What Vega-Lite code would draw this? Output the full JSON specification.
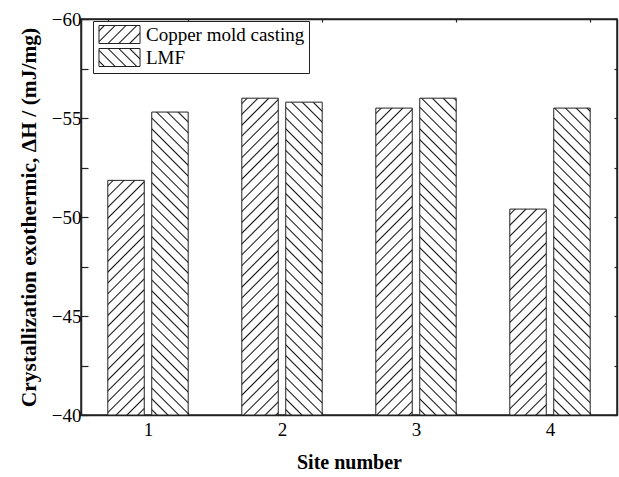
{
  "$schema": "https://vega.github.io/schema/vega-lite/v6.json",
  "width": 536,
  "height": 396,
  "padding": {"left": 18, "top": 10, "right": 2, "bottom": 5},
  "background": "white",
  "config": {
    "view": {"stroke": "#222", "strokeWidth": 1.5},
    "font": "Liberation Serif",
    "axis": {
      "domainColor": "#222", "domainWidth": 1.5, "tickColor": "#222", "tickWidth": 1.2,
      "labelFont": "Liberation Serif", "labelFontSize": 19, "labelColor": "black",
      "titleFont": "Liberation Serif", "titleFontWeight": "bold", "titleColor": "black", "grid": false
    }
  },
  "params": [
    {"name": "stripes", "value": [
      {"offset": 0.011, "color": "#fff"}, {"offset": 0.015, "color": "#111"}, {"offset": 0.019, "color": "#fff"},
      {"offset": 0.041, "color": "#fff"}, {"offset": 0.045, "color": "#111"}, {"offset": 0.049, "color": "#fff"},
      {"offset": 0.071, "color": "#fff"}, {"offset": 0.075, "color": "#111"}, {"offset": 0.079, "color": "#fff"},
      {"offset": 0.101, "color": "#fff"}, {"offset": 0.105, "color": "#111"}, {"offset": 0.109, "color": "#fff"},
      {"offset": 0.131, "color": "#fff"}, {"offset": 0.135, "color": "#111"}, {"offset": 0.139, "color": "#fff"},
      {"offset": 0.161, "color": "#fff"}, {"offset": 0.165, "color": "#111"}, {"offset": 0.169, "color": "#fff"},
      {"offset": 0.191, "color": "#fff"}, {"offset": 0.195, "color": "#111"}, {"offset": 0.199, "color": "#fff"},
      {"offset": 0.221, "color": "#fff"}, {"offset": 0.225, "color": "#111"}, {"offset": 0.229, "color": "#fff"},
      {"offset": 0.251, "color": "#fff"}, {"offset": 0.255, "color": "#111"}, {"offset": 0.259, "color": "#fff"},
      {"offset": 0.281, "color": "#fff"}, {"offset": 0.285, "color": "#111"}, {"offset": 0.289, "color": "#fff"},
      {"offset": 0.311, "color": "#fff"}, {"offset": 0.315, "color": "#111"}, {"offset": 0.319, "color": "#fff"},
      {"offset": 0.341, "color": "#fff"}, {"offset": 0.345, "color": "#111"}, {"offset": 0.349, "color": "#fff"},
      {"offset": 0.371, "color": "#fff"}, {"offset": 0.375, "color": "#111"}, {"offset": 0.379, "color": "#fff"},
      {"offset": 0.401, "color": "#fff"}, {"offset": 0.405, "color": "#111"}, {"offset": 0.409, "color": "#fff"},
      {"offset": 0.431, "color": "#fff"}, {"offset": 0.435, "color": "#111"}, {"offset": 0.439, "color": "#fff"},
      {"offset": 0.461, "color": "#fff"}, {"offset": 0.465, "color": "#111"}, {"offset": 0.469, "color": "#fff"},
      {"offset": 0.491, "color": "#fff"}, {"offset": 0.495, "color": "#111"}, {"offset": 0.499, "color": "#fff"},
      {"offset": 0.521, "color": "#fff"}, {"offset": 0.525, "color": "#111"}, {"offset": 0.529, "color": "#fff"},
      {"offset": 0.551, "color": "#fff"}, {"offset": 0.555, "color": "#111"}, {"offset": 0.559, "color": "#fff"},
      {"offset": 0.581, "color": "#fff"}, {"offset": 0.585, "color": "#111"}, {"offset": 0.589, "color": "#fff"},
      {"offset": 0.611, "color": "#fff"}, {"offset": 0.615, "color": "#111"}, {"offset": 0.619, "color": "#fff"},
      {"offset": 0.641, "color": "#fff"}, {"offset": 0.645, "color": "#111"}, {"offset": 0.649, "color": "#fff"},
      {"offset": 0.671, "color": "#fff"}, {"offset": 0.675, "color": "#111"}, {"offset": 0.679, "color": "#fff"},
      {"offset": 0.701, "color": "#fff"}, {"offset": 0.705, "color": "#111"}, {"offset": 0.709, "color": "#fff"},
      {"offset": 0.731, "color": "#fff"}, {"offset": 0.735, "color": "#111"}, {"offset": 0.739, "color": "#fff"},
      {"offset": 0.761, "color": "#fff"}, {"offset": 0.765, "color": "#111"}, {"offset": 0.769, "color": "#fff"},
      {"offset": 0.791, "color": "#fff"}, {"offset": 0.795, "color": "#111"}, {"offset": 0.799, "color": "#fff"},
      {"offset": 0.821, "color": "#fff"}, {"offset": 0.825, "color": "#111"}, {"offset": 0.829, "color": "#fff"},
      {"offset": 0.851, "color": "#fff"}, {"offset": 0.855, "color": "#111"}, {"offset": 0.859, "color": "#fff"},
      {"offset": 0.881, "color": "#fff"}, {"offset": 0.885, "color": "#111"}, {"offset": 0.889, "color": "#fff"},
      {"offset": 0.911, "color": "#fff"}, {"offset": 0.915, "color": "#111"}, {"offset": 0.919, "color": "#fff"},
      {"offset": 0.941, "color": "#fff"}, {"offset": 0.945, "color": "#111"}, {"offset": 0.949, "color": "#fff"},
      {"offset": 0.971, "color": "#fff"}, {"offset": 0.975, "color": "#111"}, {"offset": 0.979, "color": "#fff"}
    ]}
  ],
  "data": {"values": [
    {"site": "1", "series": "Copper mold casting", "value": -51.85},
    {"site": "2", "series": "Copper mold casting", "value": -56.0},
    {"site": "3", "series": "Copper mold casting", "value": -55.5},
    {"site": "4", "series": "Copper mold casting", "value": -50.4},
    {"site": "1", "series": "LMF", "value": -55.3},
    {"site": "2", "series": "LMF", "value": -55.8},
    {"site": "3", "series": "LMF", "value": -56.0},
    {"site": "4", "series": "LMF", "value": -55.5}
  ]},
  "layer": [
    {
      "mark": {"type": "bar", "stroke": "#222", "strokeWidth": 1},
      "encoding": {
        "x": {
          "field": "site", "type": "ordinal",
          "scale": {"paddingInner": 0.4, "paddingOuter": 0.2},
          "axis": {"orient": "bottom", "title": "Site number", "titleFontSize": 20, "titlePadding": 13, "labelAngle": 0, "labelPadding": 8, "tickBand": "extent", "tickSize": -3}
        },
        "xOffset": {"field": "series", "type": "nominal", "scale": {"domain": ["Copper mold casting", "LMF"], "paddingInner": 0.17}},
        "y": {
          "field": "value", "type": "quantitative",
          "scale": {"domain": [-40, -60], "nice": false, "zero": false},
          "axis": {
            "orient": "left", "title": "Crystallization exothermic, ΔH / (mJ/mg)", "titleFontSize": 21.5, "titlePadding": 11,
            "values": [-60, -57.5, -55, -52.5, -50, -47.5, -45, -42.5, -40],
            "labelExpr": "datum.value % 5 === 0 ? datum.label : ''",
            "tickSize": -7, "labelPadding": 7
          }
        },
        "y2": {"datum": -40},
        "fill": {
          "field": "series", "type": "nominal",
          "scale": {"domain": ["Copper mold casting", "LMF"], "range": [
            {"expr": "{gradient: 'linear', x1: 0, y1: 0, x2: 7.36, y2: 3.23, stops: stripes}"},
            {"expr": "{gradient: 'linear', x1: 0, y1: 1, x2: 7.36, y2: -2.23, stops: stripes}"}
          ]},
          "condition": {"test": "true", "value": {"expr": "datum.series === 'LMF' ? {gradient: 'linear', x1: 0, y1: 1, x2: 360 * bandwidth('xOffset') / (pow(bandwidth('xOffset'), 2) + pow(scale('y', -40) - scale('y', datum.value), 2)), y2: 1 - 360 * (scale('y', -40) - scale('y', datum.value)) / (pow(bandwidth('xOffset'), 2) + pow(scale('y', -40) - scale('y', datum.value), 2)), stops: stripes} : {gradient: 'linear', x1: 0, y1: 0, x2: 360 * bandwidth('xOffset') / (pow(bandwidth('xOffset'), 2) + pow(scale('y', -40) - scale('y', datum.value), 2)), y2: 360 * (scale('y', -40) - scale('y', datum.value)) / (pow(bandwidth('xOffset'), 2) + pow(scale('y', -40) - scale('y', datum.value), 2)), stops: stripes}"}},
          "legend": {
            "title": null, "orient": "none", "legendX": 12, "legendY": 2,
            "strokeColor": "#222", "fillColor": "white", "padding": 4,
            "labelFont": "Liberation Serif", "labelFontSize": 19, "labelColor": "black",
            "symbolType": "M-2.28,-1H2.28V1H-2.28Z", "symbolSize": 324,
            "symbolStrokeColor": "#222", "symbolStrokeWidth": 1,
            "symbolOffset": 13, "labelOffset": 17, "rowPadding": 0
          }
        }
      }
    },
    {
      "mark": {"type": "point", "opacity": 0},
      "encoding": {
        "x": {
          "field": "site", "type": "ordinal",
          "scale": {"paddingInner": 0.4, "paddingOuter": 0.2},
          "axis": {"orient": "top", "title": null, "labels": false, "tickBand": "extent", "tickSize": -3}
        },
        "y": {
          "field": "value", "type": "quantitative",
          "scale": {"domain": [-40, -60], "nice": false, "zero": false},
          "axis": {"orient": "right", "title": null, "labels": false, "values": [-60, -57.5, -55, -52.5, -50, -47.5, -45, -42.5, -40], "tickSize": -3}
        }
      }
    }
  ],
  "resolve": {"axis": {"x": "independent", "y": "independent"}}
}
